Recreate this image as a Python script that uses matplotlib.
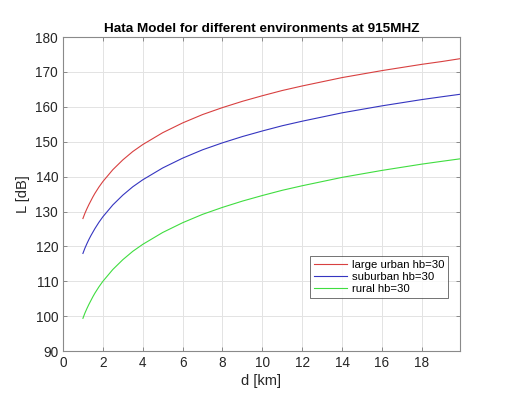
import numpy as np
import matplotlib.pyplot as plt

plt.rcParams['font.family'] = ['Liberation Sans', 'DejaVu Sans']

# distance in km and path loss values
d = [1, 1.1, 1.2, 1.3, 1.4, 1.5, 1.6, 1.8, 2, 2.5, 3, 3.5, 4, 5, 6, 7, 8,
     9, 10, 11, 12, 13, 14, 15, 16, 17, 18, 19, 19.9]
large_urban = [128.0, 129.5, 130.8, 132.0, 133.1, 134.2, 135.2, 137.0, 138.6,
               142.0, 144.8, 147.2, 149.2, 152.6, 155.4, 157.8, 159.8, 161.6,
               163.2, 164.7, 166.0, 167.2, 168.4, 169.4, 170.4, 171.3, 172.2,
               173.0, 173.8]
suburban = [118.0, 119.5, 120.8, 122.0, 123.1, 124.1, 125.1, 126.9, 128.5,
            131.9, 134.7, 137.1, 139.1, 142.5, 145.3, 147.7, 149.7, 151.5,
            153.1, 154.6, 155.9, 157.1, 158.3, 159.3, 160.3, 161.2, 162.1,
            162.9, 163.6]
rural = [99.4, 100.9, 102.2, 103.4, 104.5, 105.6, 106.6, 108.4, 110.0,
         113.4, 116.2, 118.6, 120.6, 124.0, 126.8, 129.2, 131.2, 133.0,
         134.6, 136.1, 137.4, 138.6, 139.8, 140.8, 141.8, 142.7, 143.6,
         144.4, 145.1]

fig = plt.figure(figsize=(5.12, 3.99), dpi=100)
ax = fig.add_axes([0.123, 0.120, 0.775, 0.787])

ax.plot(d, large_urban, color='#d84040', lw=0.8, label='large urban hb=30')
ax.plot(d, suburban, color='#3535c0', lw=0.8, label='suburban hb=30')
ax.plot(d, rural, color='#40dd40', lw=0.8, label='rural hb=30')

ax.set_xlim(0, 19.9)
ax.set_ylim(90, 180)
ax.set_xticks(np.arange(0, 19, 2))
ax.set_yticks(np.arange(90, 181, 10))
ax.grid(True, color='#e3e3e3', lw=0.7)
ax.set_axisbelow(True)
ax.tick_params(direction='in', length=3, width=0.6, color='#7a7a7a',
               labelsize=9.8, labelcolor='#262626', top=True, right=True)
for s in ax.spines.values():
    s.set_color('#8a8a8a')
    s.set_linewidth(0.8)

ax.set_title('Hata Model for different environments at 915MHZ',
             fontsize=9.7, fontweight='bold', pad=4)
ax.set_xlabel('d [km]', fontsize=10.5, color='#262626', labelpad=3)
ax.set_ylabel('L [dB]', fontsize=10.5, color='#262626', labelpad=4)

leg = ax.legend(loc='lower right', bbox_to_anchor=(0.985, 0.15), fontsize=8.2,
                frameon=True, fancybox=False, handlelength=2.9,
                borderpad=0.35, labelspacing=0.2, handletextpad=0.4)
leg.get_frame().set_edgecolor('#333333')
leg.get_frame().set_linewidth(0.6)

fig.savefig('out.png', dpi=100)
